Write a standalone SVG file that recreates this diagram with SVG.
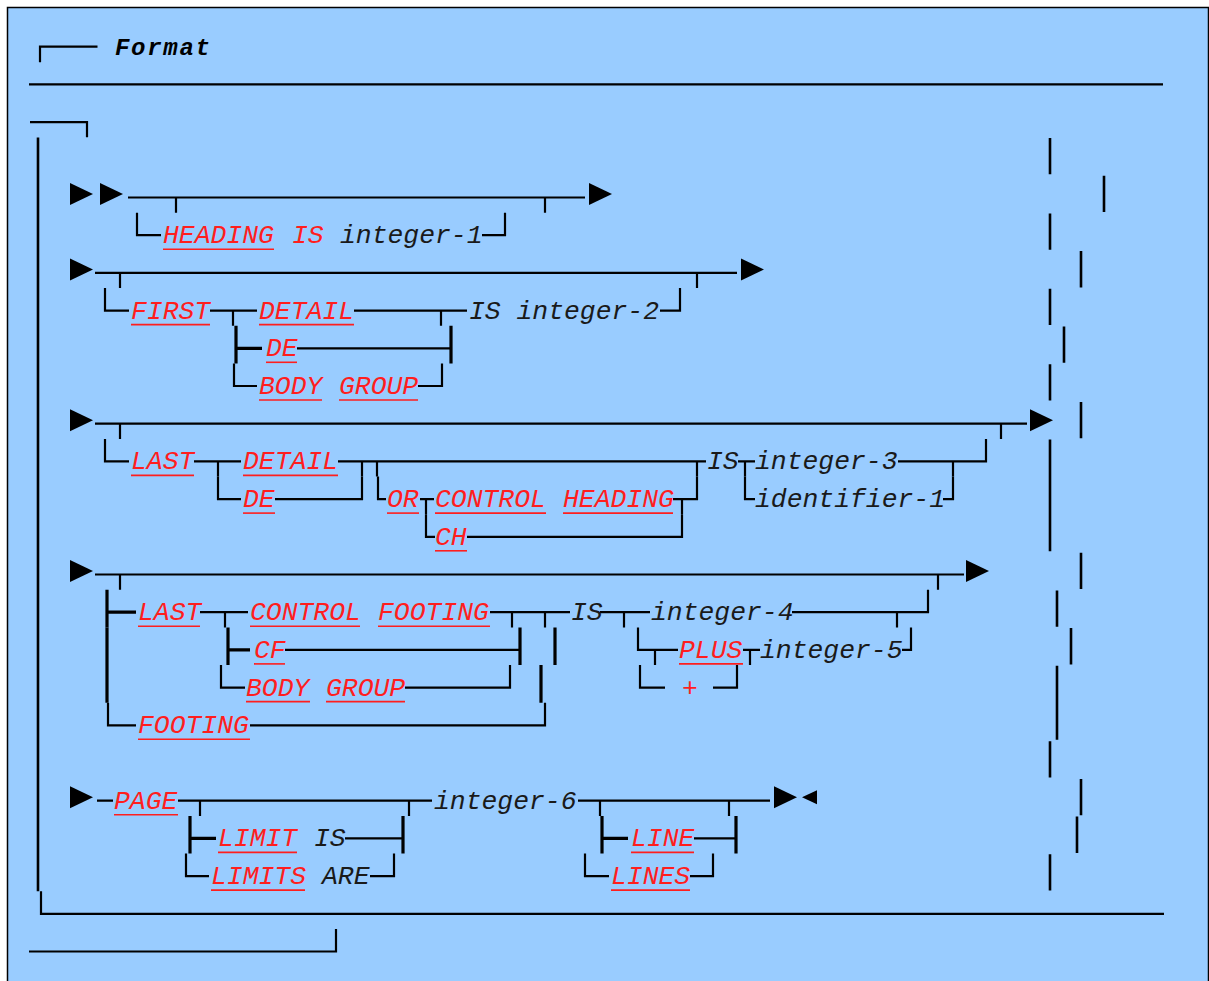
<svg xmlns="http://www.w3.org/2000/svg" width="1209" height="981" viewBox="0 0 1209 981">
<style>
.ln{fill:none;stroke:#000;stroke-width:2.2;stroke-linecap:butt}
.hv{fill:none;stroke:#000;stroke-width:3.2;stroke-linecap:butt}
.rd{fill:none;stroke:#000;stroke-width:2.6}
.ul{fill:none;stroke:#ff1e1e;stroke-width:1.6}
.ar{fill:#000}
text{font-family:"Liberation Mono","Courier New",monospace;font-size:26.4px;font-style:italic}
.kw{fill:#ff1e1e}
.tx{fill:#1a1a1a}
.ti{font-weight:bold;font-size:24px;fill:#000}
</style>
<rect x="7.5" y="7.5" width="1201" height="990" fill="#99ccff" stroke="#000" stroke-width="1.5"/>
<g id="title">
<path class="ln" d="M40,62.2V46.7H97.5"/>
<text class="ti" x="115" y="55" textLength="95">Format</text>
</g>
<g id="connectors">
<path class="ln" d="M29,84.4H1163"/>
<path class="ln" d="M30,122.1H87V137.3"/>
<path class="rd" d="M38,137.6V891.3"/>
<path class="ln" d="M41,891.3V913.8H1164"/>
<path class="ln" d="M29,951.5H336V929"/>
<path class="rd" d="M1050,138V174.3M1104,175.7V212M1050,213.4V249.7M1081,251.1V287.4M1050,288.8V325.1M1064,326.5V362.8M1050,364.2V400.5M1081,401.9V438.2M1050,439.6V551.3M1081,552.7V589M1057,590.4V626.7M1071,628.1V664.4M1057,665.8V739.8M1050,741.2V777.5M1081,778.9V815.2M1077,816.6V852.9M1050,854.3V890.6"/>
<!-- row 0 -->
<path class="ln" d="M128,197.5H585M176,197.5V212.7M545,197.5V212.7"/>
<!-- row 1 -->
<path class="ln" d="M137,212.7V235.2H161M482,235.2H505V212.7"/>
<!-- row 2 -->
<path class="ln" d="M95,272.9H737M120,272.9V288.1M697,272.9V288.1"/>
<!-- row 3 -->
<path class="ln" d="M105,288.1V310.6H129M210,310.6H257M233,310.6V325.8M354,310.6H467M441,310.6V325.8M660,310.6H680V288.1"/>
<!-- row 4 -->
<path class="hv" d="M236,325.8V363.5M236,348.3H262M451,325.8V363.5"/>
<path class="ln" d="M297,348.3H451"/>
<!-- row 5 -->
<path class="ln" d="M234,363.5V386H257M418,386H442V363.5"/>
<!-- row 6 -->
<path class="ln" d="M95,423.7H1027M120,423.7V438.9M1001,423.7V438.9"/>
<!-- row 7 -->
<path class="ln" d="M105,438.9V461.4H129M194,461.4H241M218,461.4V476.6M338,461.4H706M362,461.4V476.6M377,461.4V476.6M697,461.4V476.6M738,461.4H755M745,461.4V476.6M898,461.4H986V438.9M953,461.4V476.6"/>
<!-- row 8 -->
<path class="ln" d="M218,476.6V499.1H241M275,499.1H362V476.6M378,476.6V499.1H386M420,499.1H434M426,499.1V514.3M673,499.1H697V476.6M682,499.1V514.3M745,476.6V499.1H755M943,499.1H953V476.6"/>
<!-- row 9 -->
<path class="ln" d="M426,514.3V536.8H435M467,536.8H682V514.3"/>
<!-- row 10 -->
<path class="ln" d="M95,574.5H964M120,574.5V589.7M938,574.5V589.7"/>
<!-- row 11 -->
<path class="hv" d="M107,589.7V627.4M107,612.2H136"/>
<path class="ln" d="M200,612.2H248M225,612.2V627.4M490,612.2H570M512,612.2V627.4M545,612.2V627.4M600,612.2H650M624,612.2V627.4M792,612.2H928V589.7M897,612.2V627.4"/>
<!-- row 12 -->
<path class="hv" d="M107,627.4V665.1M228,627.4V665.1M228,649.9H250M520,627.4V665.1M555,627.4V665.1"/>
<path class="ln" d="M285,649.9H520M638,627.4V649.9H678M655,649.9V665.1M743,649.9H760M750,649.9V665.1M902,649.9H911V627.4"/>
<!-- row 13 -->
<path class="hv" d="M107,665.1V702.8M541,665.1V702.8"/>
<path class="ln" d="M221,665.1V687.6H245M405,687.6H510V665.1M640,665.1V687.6H665M713,687.6H737V665.1"/>
<!-- row 14 -->
<path class="ln" d="M108,702.8V725.3H136M250,725.3H545V702.8"/>
<!-- row 16 -->
<path class="ln" d="M97,800.7H113M178,800.7H432M200,800.7V815.9M409,800.7V815.9M578,800.7H770M600,800.7V815.9M729,800.7V815.9"/>
<!-- row 17 -->
<path class="hv" d="M190,815.9V853.6M190,838.4H216M403,815.9V853.6M602,815.9V853.6M602,838.4H628M736,815.9V853.6"/>
<path class="ln" d="M345,838.4H403M694,838.4H736"/>
<!-- row 18 -->
<path class="ln" d="M186,853.6V876.1H209M370,876.1H394V853.6M585,853.6V876.1H609M690,876.1H713V853.6"/>
<!-- arrows -->
<g class="ar">
<path d="M70,183V205L93,194Z"/>
<path d="M100,183V205L123,194Z"/>
<path d="M589,183V205L612,194Z"/>
<path d="M70,258.4V280.4L93,269.4Z"/>
<path d="M741,258.4V280.4L764,269.4Z"/>
<path d="M70,409.2V431.2L93,420.2Z"/>
<path d="M1030,409.2V431.2L1053,420.2Z"/>
<path d="M70,560V582L93,571Z"/>
<path d="M966,560V582L989,571Z"/>
<path d="M70,786.2V808.2L93,797.2Z"/>
<path d="M774,786.2V808.2L797,797.2Z"/>
<path d="M817,790.2V804.2L802,797.2Z"/>
</g>
</g>
<g id="row1">
<text class="kw" x="163" y="243.2">HEADING</text><path class="ul" d="M163,249.2H274"/>
<text class="kw" x="292" y="243.2">IS</text>
<text class="tx" x="340" y="243.2">integer-1</text>
</g>
<g id="row3">
<text class="kw" x="131" y="318.6">FIRST</text><path class="ul" d="M131,324.6H210"/>
<text class="kw" x="259" y="318.6">DETAIL</text><path class="ul" d="M259,324.6H354"/>
<text class="tx" x="469" y="318.6">IS integer-2</text>
</g>
<g id="row4">
<text class="kw" x="266" y="356.3">DE</text><path class="ul" d="M266,362.3H297"/>
</g>
<g id="row5">
<text class="kw" x="259" y="394">BODY</text><path class="ul" d="M259,400H322"/>
<text class="kw" x="339" y="394">GROUP</text><path class="ul" d="M339,400H418"/>
</g>
<g id="row7">
<text class="kw" x="131" y="469.4">LAST</text><path class="ul" d="M131,475.4H194"/>
<text class="kw" x="243" y="469.4">DETAIL</text><path class="ul" d="M243,475.4H338"/>
<text class="tx" x="707" y="469.4">IS</text>
<text class="tx" x="755" y="469.4">integer-3</text>
</g>
<g id="row8">
<text class="kw" x="243" y="507.1">DE</text><path class="ul" d="M243,513.1H275"/>
<text class="kw" x="387" y="507.1">OR</text><path class="ul" d="M387,513.1H419"/>
<text class="kw" x="435" y="507.1">CONTROL</text><path class="ul" d="M435,513.1H546"/>
<text class="kw" x="563" y="507.1">HEADING</text><path class="ul" d="M563,513.1H673"/>
<text class="tx" x="755" y="507.1">identifier-1</text>
</g>
<g id="row9">
<text class="kw" x="435" y="544.8">CH</text><path class="ul" d="M435,550.8H467"/>
</g>
<g id="row11">
<text class="kw" x="138" y="620.2">LAST</text><path class="ul" d="M138,626.2H200"/>
<text class="kw" x="250" y="620.2">CONTROL</text><path class="ul" d="M250,626.2H360"/>
<text class="kw" x="378" y="620.2">FOOTING</text><path class="ul" d="M378,626.2H490"/>
<text class="tx" x="571" y="620.2">IS</text>
<text class="tx" x="651" y="620.2">integer-4</text>
</g>
<g id="row12">
<text class="kw" x="254" y="657.9">CF</text><path class="ul" d="M254,663.9H285"/>
<text class="kw" x="679" y="657.9">PLUS</text><path class="ul" d="M679,663.9H743"/>
<text class="tx" x="760" y="657.9">integer-5</text>
</g>
<g id="row13">
<text class="kw" x="246" y="695.6">BODY</text><path class="ul" d="M246,701.6H310"/>
<text class="kw" x="326" y="695.6">GROUP</text><path class="ul" d="M326,701.6H405"/>
<text class="kw" x="682" y="695.6">+</text>
</g>
<g id="row14">
<text class="kw" x="138" y="733.3">FOOTING</text><path class="ul" d="M138,739.3H250"/>
</g>
<g id="row16">
<text class="kw" x="114" y="808.7">PAGE</text><path class="ul" d="M114,814.7H178"/>
<text class="tx" x="434" y="808.7">integer-6</text>
</g>
<g id="row17">
<text class="kw" x="218" y="846.4">LIMIT</text><path class="ul" d="M218,852.4H297"/>
<text class="tx" x="314" y="846.4">IS</text>
<text class="kw" x="631" y="846.4">LINE</text><path class="ul" d="M631,852.4H694"/>
</g>
<g id="row18">
<text class="kw" x="211" y="884.1">LIMITS</text><path class="ul" d="M211,890.1H305"/>
<text class="tx" x="322" y="884.1">ARE</text>
<text class="kw" x="611" y="884.1">LINES</text><path class="ul" d="M611,890.1H690"/>
</g>
</svg>
